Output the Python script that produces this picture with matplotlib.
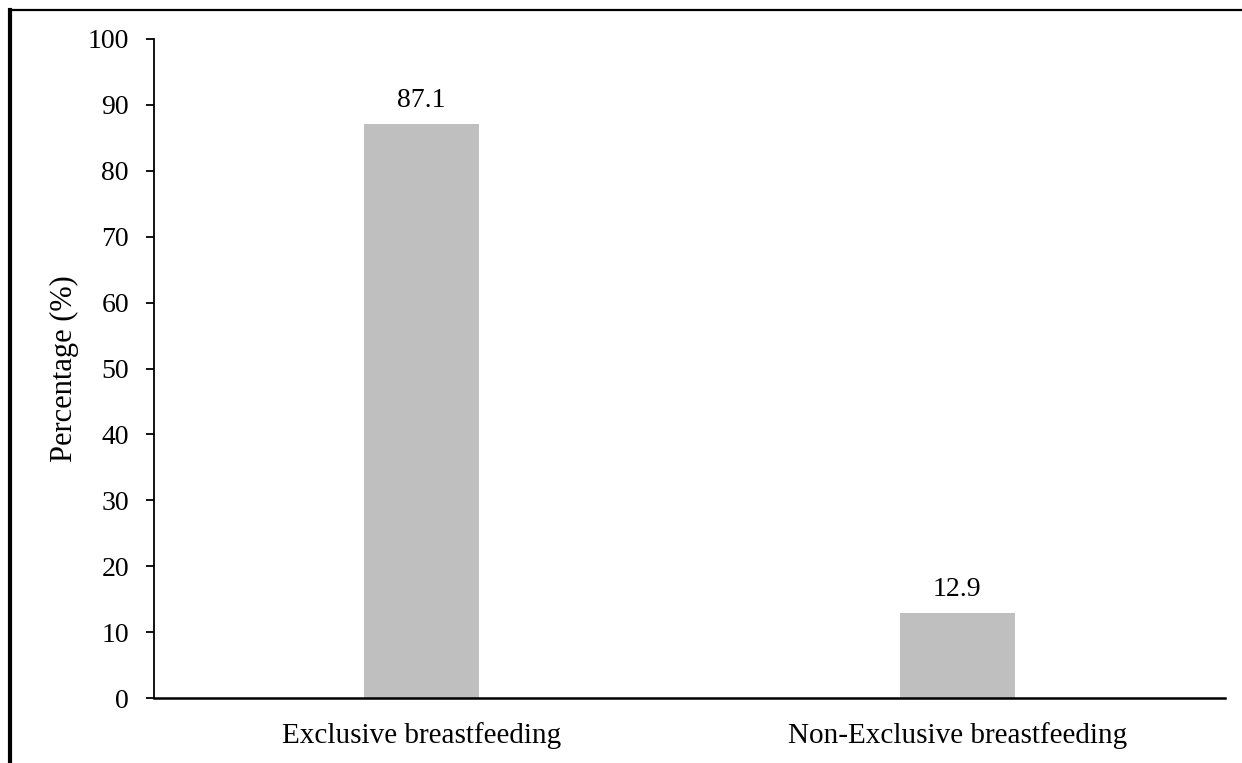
import matplotlib
matplotlib.use("Agg")
import matplotlib.pyplot as plt
from matplotlib.lines import Line2D

categories = ["Exclusive breastfeeding", "Non-Exclusive breastfeeding"]
values = [87.1, 12.9]
yticks = [0, 10, 20, 30, 40, 50, 60, 70, 80, 90, 100]

plt.rcParams['font.family'] = ['Liberation Serif', 'DejaVu Serif']

fig = plt.figure(figsize=(12.42, 7.63), dpi=100)
ax = fig.add_axes([154/1242, 1 - 698/763, (1225-154)/1242, (698-39)/763])

x = range(len(categories))
bars = ax.bar(x, values, width=0.215, color="#bfbfbf")
ax.set_xlim(-0.5, 1.5)
ax.set_ylim(0, 100)
ax.set_yticks(yticks)
ax.set_xticks(list(x))
ax.set_xticklabels(categories, fontsize=21)
ax.tick_params(axis='y', labelsize=20, direction='out', length=6, width=1.3, pad=12)
ax.tick_params(axis='x', length=0, pad=17)
for s in ['top', 'right']:
    ax.spines[s].set_visible(False)
ax.spines['left'].set_linewidth(1.3)
ax.spines['bottom'].set_linewidth(1.8)
ax.set_ylabel("Percentage (%)", fontsize=22, labelpad=6)

for b, v in zip(bars, values):
    ax.annotate(f"{v}", (b.get_x() + b.get_width()/2, v), xytext=(0, 8),
                textcoords='offset points', ha='center', va='bottom', fontsize=20)

# outer frame (top and left edges visible)
fig.add_artist(Line2D([10/1242, 1], [1 - 10/763, 1 - 10/763], transform=fig.transFigure,
                      color='black', linewidth=1.6))
fig.add_artist(Line2D([10/1242, 10/1242], [0, 1 - 10/763], transform=fig.transFigure,
                      color='black', linewidth=3))

fig.savefig("out.png", dpi=100)
